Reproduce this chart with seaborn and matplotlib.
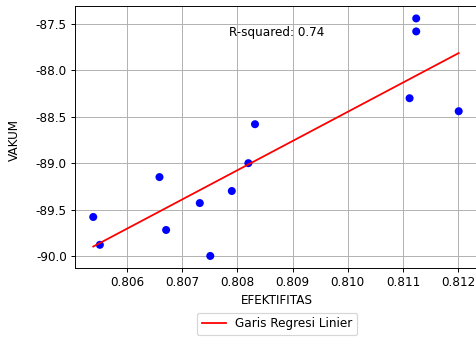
import numpy as np
import pandas as pd
import seaborn as sb
from matplotlib import pyplot as plt

# values
efektifitas = [0.80539, 0.80551, 0.80659, 0.80671, 0.80732, 0.80751, 0.80790,
               0.80820, 0.80832, 0.81112, 0.81124, 0.81124, 0.81201]
vakum = [-89.58, -89.88, -89.15, -89.72, -89.43, -90.00, -89.30,
         -89.00, -88.58, -88.30, -87.44, -87.58, -88.44]
r_squared_text = 'R-squared: 0.74'
xticks = [0.806, 0.807, 0.808, 0.809, 0.810, 0.811, 0.812]
yticks = [-87.5, -88.0, -88.5, -89.0, -89.5, -90.0]

df = pd.DataFrame({'EFEKTIFITAS': efektifitas, 'VAKUM': vakum})
slope, intercept = np.polyfit(df['EFEKTIFITAS'], df['VAKUM'], 1)
df['fit'] = slope * df['EFEKTIFITAS'] + intercept

plt.rcParams['font.family'] = ['DejaVu Sans']
plt.rcParams['font.size'] = 10

dpi = 86
fig = plt.figure(figsize=(476 / dpi, 337 / dpi), dpi=dpi)
ax = fig.add_axes([0.1576, 0.2047, 0.849, 0.7775])

sb.scatterplot(data=df, x='EFEKTIFITAS', y='VAKUM', color='blue', s=45,
               edgecolor='none', ax=ax, zorder=3)
sb.lineplot(data=df, x='EFEKTIFITAS', y='fit', color='red', linewidth=1.5,
            label='Garis Regresi Linier', ax=ax, zorder=4)

ax.text(0.5, 0.9, r_squared_text, transform=ax.transAxes, ha='center', va='center')
ax.set_xlim(0.80506, 0.81238)
ax.set_ylim(-90.13, -87.306)
ax.set_xticks(xticks)
ax.set_xticklabels(['%.3f' % t for t in xticks])
ax.set_yticks(yticks)
ax.set_yticklabels(['%.1f' % t for t in yticks])
ax.grid(True, color='#b0b0b0', linewidth=0.8)
ax.set_axisbelow(True)
ax.set_xlabel('EFEKTIFITAS')
ax.set_ylabel('VAKUM')
ax.yaxis.set_label_coords(-0.133, 0.49)
ax.legend(loc='upper center', bbox_to_anchor=(0.5, -0.147), ncol=1)

plt.savefig('out.png', dpi=dpi)
